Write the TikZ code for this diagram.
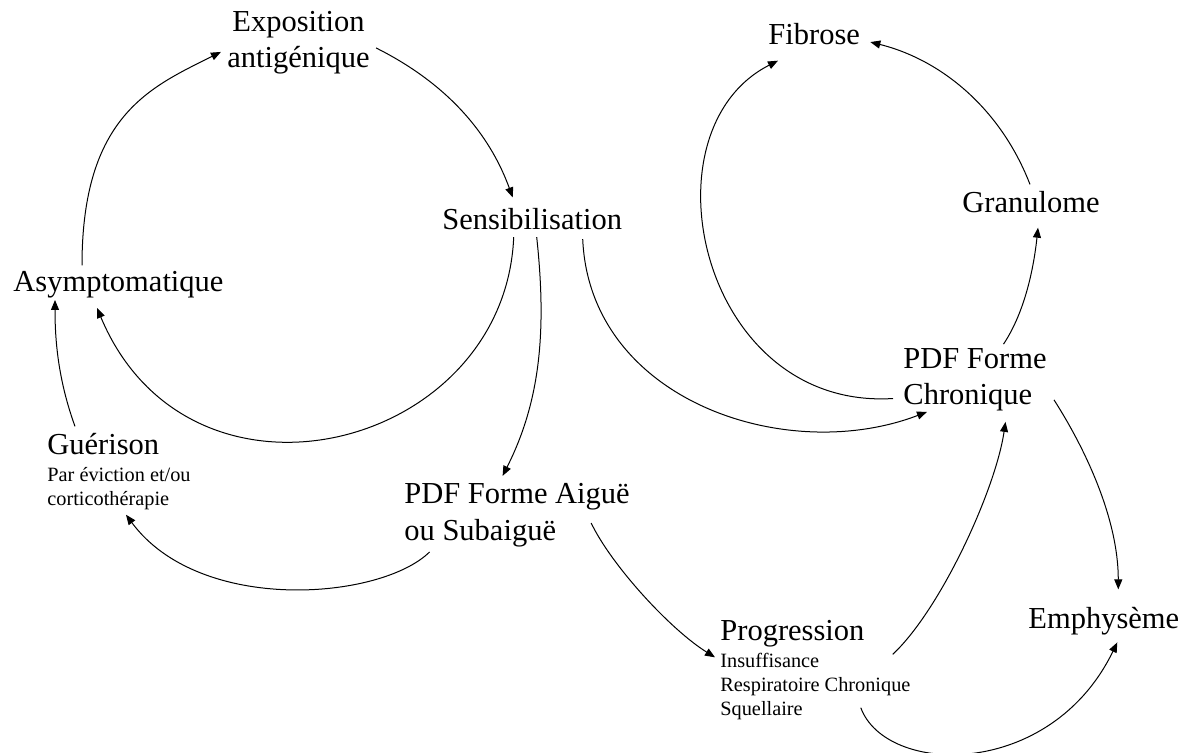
\documentclass[tikz,border=0pt]{standalone}
\usepackage{fontspec}
\setmainfont{Liberation Serif}
\usetikzlibrary{arrows.meta}

\begin{document}
\begin{tikzpicture}[x=0.5pt,y=-0.5pt,
	etape/.style={inner sep=0pt,anchor=base west,align=left,font=\fontsize{15.25}{18.25}\selectfont},
	detail/.style={inner sep=0pt,anchor=base west,align=left,font=\fontsize{10.15}{12}\selectfont},
	fleche/.style={-{Triangle[length=5pt,width=4pt]},line width=0.5pt}]
	% Rahmen
	\useasboundingbox (0,0) rectangle (1194,753);
	% Stadien (Grundlinie der letzten Zeile)
	\node[etape,anchor=base,align=center] (expo) at (298.5,68) {Exposition\\antigénique};
	\node[etape] (sens) at (442,230) {Sensibilisation};
	\node[etape] (asym) at (13,292) {Asymptomatique};
	\node[etape] (guer) at (47,455) {Guérison};
	\node[detail] (guersub) at (47,505) {Par éviction et/ou\\corticothérapie};
	\node[etape] (pdfa) at (404,540) {PDF Forme Aiguë\\ou Subaiguë};
	\node[etape] (prog) at (720,640) {Progression};
	\node[detail] (progsub) at (720,715) {Insuffisance\\Respiratoire Chronique\\Squellaire};
	\node[etape] (fib) at (768,45) {Fibrose};
	\node[etape] (gran) at (962,213) {Granulome};
	\node[etape] (chro) at (903,405) {PDF Forme\\Chronique};
	\node[etape] (emph) at (1028,628) {Emphysème};
	% Kreislauf links
	\draw[fleche] ([xshift=34.5pt,yshift=3pt]asym.north west) .. controls +(0,-150) and +(-70,35) .. ([xshift=-3pt,yshift=-4.5pt]expo.west);
	\draw[fleche] ([xshift=3pt,yshift=-2.5pt]expo.east) .. controls +(80,40) and +(-20,-55) .. ([xshift=-9.75pt,yshift=5.5pt]sens.north);
	\draw[fleche] ([xshift=-9.25pt,yshift=-3.25pt]sens.south) .. controls +(-9,213) and +(93,222) .. ([xshift=42pt,yshift=-4.5pt]asym.south west);
	\draw[fleche] ([xshift=2.25pt,yshift=-3.25pt]sens.south) .. controls +(10,93) and +(38,-75) .. ([xshift=-7.25pt,yshift=3.5pt]pdfa.north);
	\draw[fleche] ([xshift=25.25pt,yshift=-4.25pt]sens.south) .. controls +(7,161) and +(-141,54) .. ([xshift=12pt]chro.south west);
	\draw[fleche] ([xshift=-43.75pt,yshift=-2.5pt]pdfa.south) .. controls +(-49,48) and +(74,100) .. ([xshift=39.5pt,yshift=-2.5pt]guersub.south west);
	\draw[fleche] ([xshift=14pt,yshift=3.5pt]guer.north west) .. controls +(-17,-47) and +(0,40) .. ([xshift=21pt,yshift=-0.5pt]asym.south west);
	% Verlauf rechts
	\draw[fleche] ([xshift=-19.5pt,yshift=12pt]pdfa.south east) .. controls +(20,42) and +(-45,-28) .. ([xshift=-2.5pt,yshift=-2.5pt]progsub.north west);
	\draw[fleche] ([xshift=-9pt,yshift=-1pt]progsub.north east) .. controls +(48,-45) and +(-10,68) .. ([xshift=15.25pt,yshift=-5pt]chro.south);
	\draw[fleche] ([xshift=-25pt,yshift=6pt]progsub.south east) .. controls +(25,68) and +(-67,138) .. ([xshift=6.75pt,yshift=-3.7pt]emph.south);
	\draw[fleche] ([xshift=3.5pt,yshift=6pt]chro.south east) .. controls +(32,50) and +(0,-70) .. ([xshift=7.25pt,yshift=8.5pt]emph.north);
	\draw[fleche] ([xshift=-5pt,yshift=-9.25pt]chro.west) .. controls +(-193,12) and +(-138,70) .. ([xshift=5pt,yshift=-7.5pt]fib.south west);
	\draw[fleche] ([xshift=14.25pt,yshift=2pt]chro.north) .. controls +(22,-33) and +(-4,38) .. ([xshift=3.5pt,yshift=-7pt]gran.south);
	\draw[fleche] ([xshift=-0.5pt,yshift=3.5pt]gran.north) .. controls +(-29,-75) and +(72,18) .. ([xshift=5pt,yshift=-3.75pt]fib.east);
\end{tikzpicture}
\end{document}
